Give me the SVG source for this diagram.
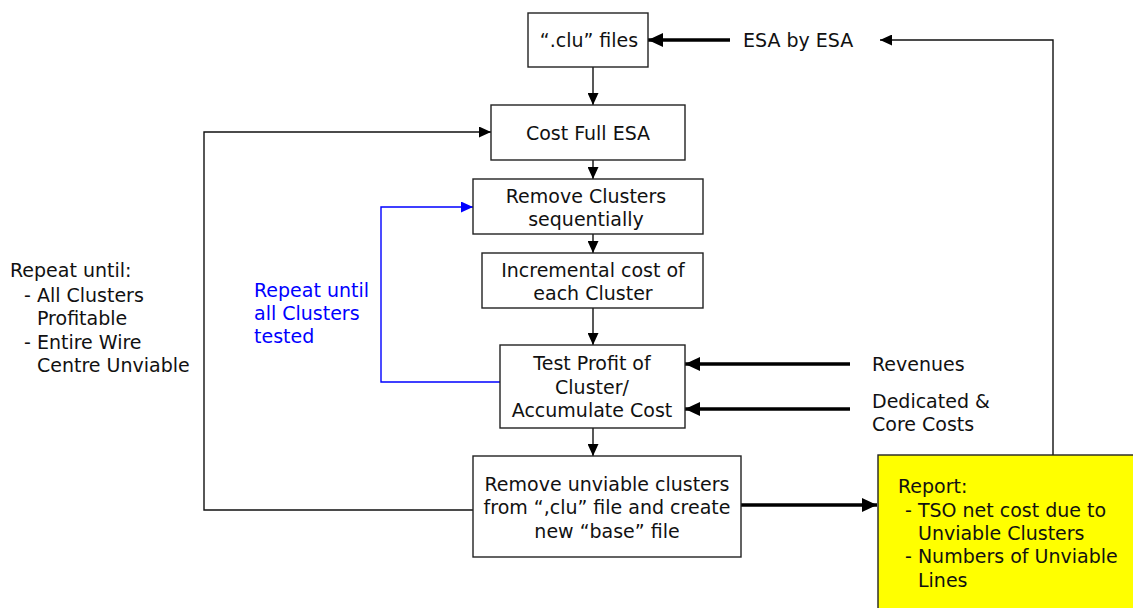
<svg xmlns="http://www.w3.org/2000/svg" width="1133" height="608" viewBox="0 0 1133 608">
  <style>
    text { font-family: "DejaVu Sans", Verdana, sans-serif; font-size: 19px; fill: #111; }
    .c { text-anchor: middle; }
    .blue { fill: #0000ff; }
    .box { fill: #fff; stroke: #222; stroke-width: 1.4; }
    .report { fill: #ffff00; stroke: #222; stroke-width: 1.4; }
    .thin { fill: none; stroke: #111; stroke-width: 1.4; }
    .thick { fill: none; stroke: #000; stroke-width: 3.5; }
    .loop { fill: none; stroke: #0000ff; stroke-width: 1.4; }
  </style>
  <defs>
    <marker id="ah" markerUnits="userSpaceOnUse" markerWidth="12" markerHeight="11" refX="12" refY="5.5" orient="auto">
      <path d="M0,0 L12,5.5 L0,11 z" fill="#000"/>
    </marker>
    <marker id="ahBig" markerUnits="userSpaceOnUse" markerWidth="15" markerHeight="14" refX="15" refY="7" orient="auto">
      <path d="M0,0 L15,7 L0,14 z" fill="#000"/>
    </marker>
    <marker id="ahBlue" markerUnits="userSpaceOnUse" markerWidth="12" markerHeight="11" refX="12" refY="5.5" orient="auto">
      <path d="M0,0 L12,5.5 L0,11 z" fill="#0000ff"/>
    </marker>
  </defs>

  <!-- connectors -->
  <g id="connectors">
    <line class="thin" x1="593" y1="67" x2="593" y2="105" marker-end="url(#ah)"/>
    <line class="thin" x1="593" y1="160" x2="593" y2="179" marker-end="url(#ah)"/>
    <line class="thin" x1="593" y1="234" x2="593" y2="253" marker-end="url(#ah)"/>
    <line class="thin" x1="593" y1="308" x2="593" y2="345" marker-end="url(#ah)"/>
    <line class="thin" x1="593" y1="428" x2="593" y2="456" marker-end="url(#ah)"/>
    <!-- outer repeat loop -->
    <polyline class="thin" points="473,510 204,510 204,132 491,132" marker-end="url(#ah)"/>
    <!-- inner repeat loop -->
    <polyline class="loop" points="500,382 381,382 381,207 473,207" marker-end="url(#ahBlue)"/>
    <!-- report feeds back to the next ESA -->
    <polyline class="thin" points="1053,455 1053,40 880,40" marker-end="url(#ah)"/>
    <line class="thick" x1="730" y1="40" x2="648" y2="40" marker-end="url(#ahBig)"/>
    <line class="thick" x1="850" y1="364" x2="685" y2="364" marker-end="url(#ahBig)"/>
    <line class="thick" x1="850" y1="409" x2="685" y2="409" marker-end="url(#ahBig)"/>
    <line class="thick" x1="741" y1="505" x2="877" y2="505" marker-end="url(#ahBig)"/>
  </g>

  <g id="clu-files">
    <rect class="box" x="528" y="13" width="120" height="54"/>
    <text class="c" x="589" y="47">“.clu” files</text>
  </g>

  <g id="cost-full-esa">
    <rect class="box" x="491" y="105" width="194" height="55"/>
    <text class="c" x="588" y="140">Cost Full ESA</text>
  </g>

  <g id="remove-clusters">
    <rect class="box" x="473" y="179" width="230" height="55"/>
    <text class="c" x="586" y="203">Remove Clusters</text>
    <text class="c" x="586" y="226">sequentially</text>
  </g>

  <g id="incremental-cost">
    <rect class="box" x="482" y="253" width="221" height="55"/>
    <text class="c" x="593" y="277">Incremental cost of</text>
    <text class="c" x="593" y="300">each Cluster</text>
  </g>

  <g id="test-profit">
    <rect class="box" x="500" y="345" width="185" height="83"/>
    <text class="c" x="592" y="370">Test Profit of</text>
    <text class="c" x="592" y="394">Cluster/</text>
    <text class="c" x="592" y="417">Accumulate Cost</text>
  </g>

  <g id="remove-unviable">
    <rect class="box" x="473" y="456" width="268" height="101"/>
    <text class="c" x="607" y="491">Remove unviable clusters</text>
    <text class="c" x="607" y="514">from “,clu” file and create</text>
    <text class="c" x="607" y="538">new “base” file</text>
  </g>

  <g id="report">
    <rect class="report" x="878" y="455" width="260" height="160"/>
    <text x="898" y="493">Report:</text>
    <text x="905" y="517">- TSO net cost due to</text>
    <text x="918" y="540">Unviable Clusters</text>
    <text x="905" y="563">- Numbers of Unviable</text>
    <text x="918" y="587">Lines</text>
  </g>

  <g id="esa-by-esa">
    <text x="743" y="47">ESA by ESA</text>
  </g>

  <g id="revenues">
    <text x="872" y="371">Revenues</text>
  </g>

  <g id="dedicated-core-costs">
    <text x="872" y="408">Dedicated &amp;</text>
    <text x="872" y="431">Core Costs</text>
  </g>

  <g id="outer-loop-label">
    <text x="10" y="277">Repeat until:</text>
    <text x="24" y="302">- All Clusters</text>
    <text x="37" y="325">Profitable</text>
    <text x="24" y="349">- Entire Wire</text>
    <text x="37" y="372">Centre Unviable</text>
  </g>

  <g id="inner-loop-label">
    <text class="blue" x="254" y="297">Repeat until</text>
    <text class="blue" x="254" y="320">all Clusters</text>
    <text class="blue" x="254" y="343">tested</text>
  </g>
</svg>
